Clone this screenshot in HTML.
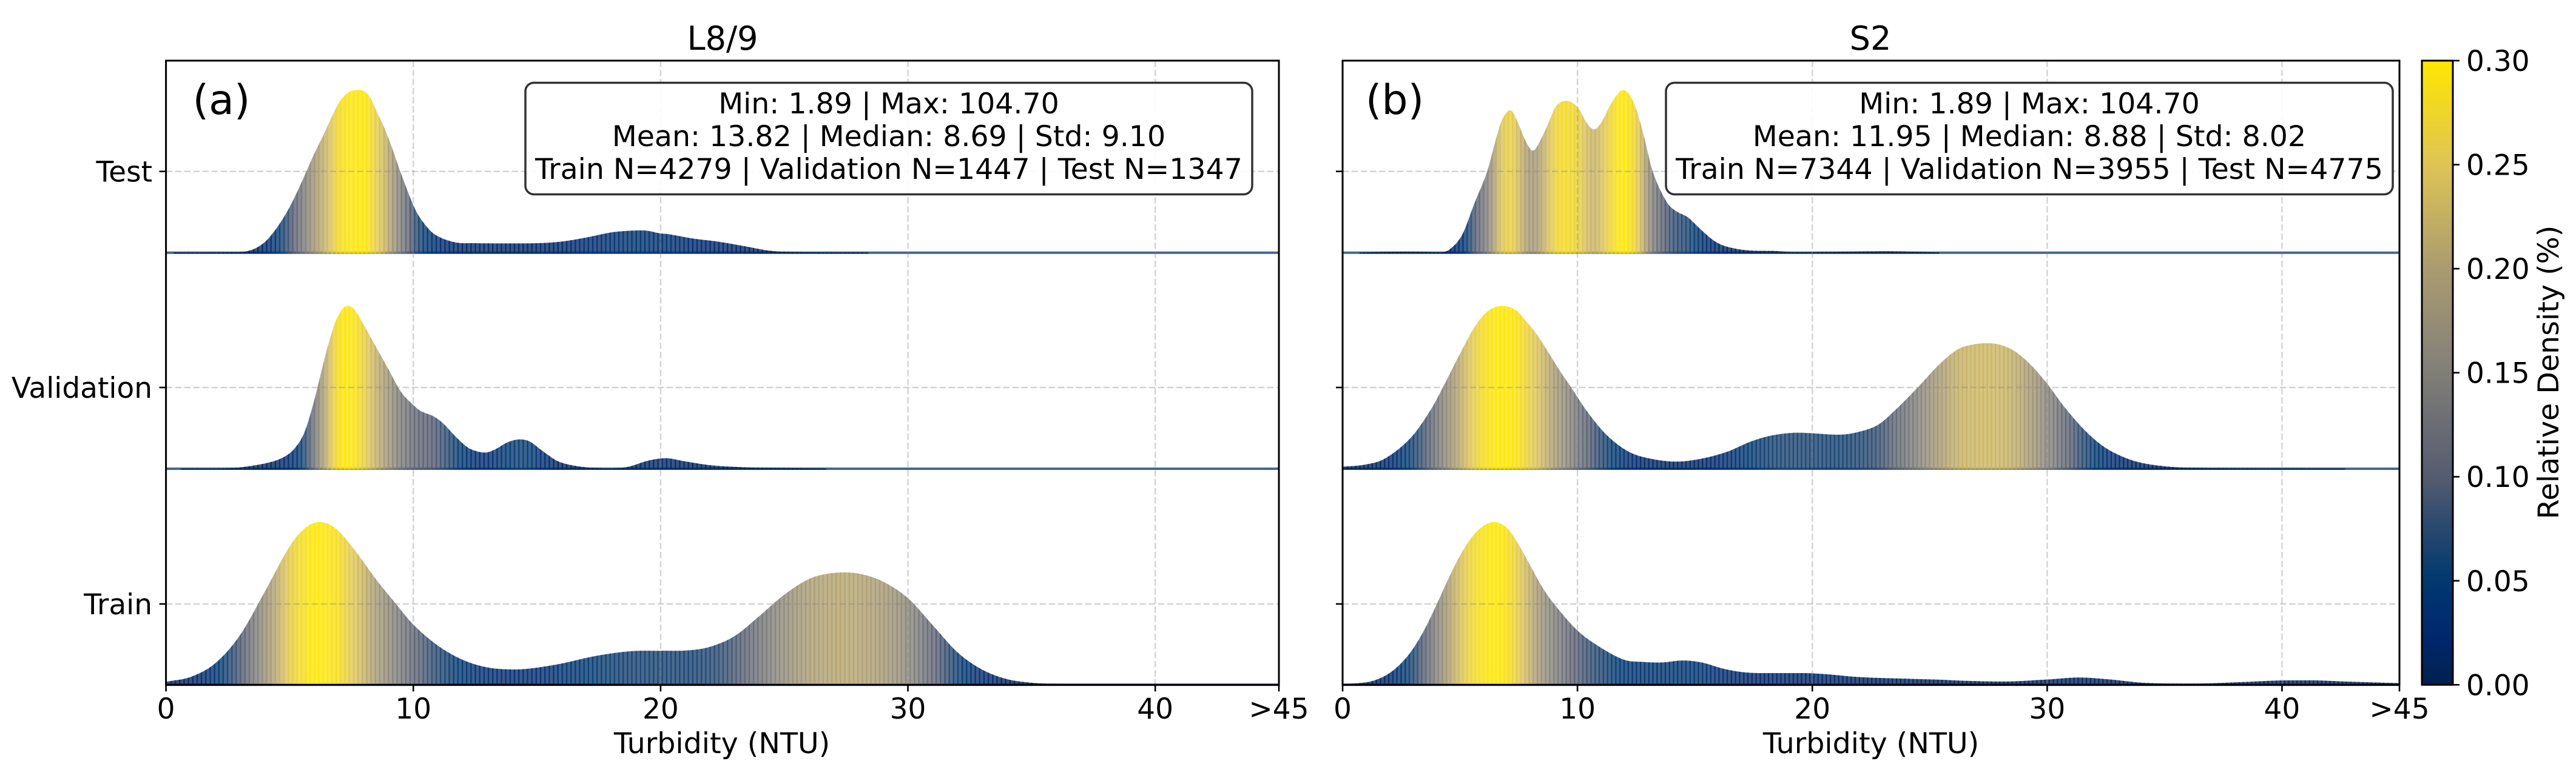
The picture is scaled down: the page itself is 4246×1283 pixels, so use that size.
<!DOCTYPE html>
<html lang="en">
<head>
<meta charset="utf-8">
<title>Turbidity density ridgelines</title>
<style>
html,body{margin:0;padding:0;background:#fff;}
svg{display:block;}
text{font-family:"DejaVu Sans","Liberation Sans",sans-serif;fill:#000;}
</style>
</head>
<body>
<svg id="chart" xmlns="http://www.w3.org/2000/svg" width="4246" height="1283" viewBox="0 0 4246 1283">
  <rect x="0" y="0" width="4246" height="1283" fill="#fff"/>
  <g id="marks"></g>
  <g id="overlay"></g>

  <text x="1191" y="82" font-size="54" text-anchor="middle">L8/9</text>
  <text x="3083" y="82" font-size="54" text-anchor="middle">S2</text>
  <text x="365" y="188" font-size="68" text-anchor="middle">(a)</text>
  <text x="2299" y="188" font-size="68" text-anchor="middle">(b)</text>

  <g>
    <rect x="866" y="136.5" width="1198" height="184" rx="14" ry="14" fill="#fff" fill-opacity="0.9" stroke="#333" stroke-width="3.5"/>
    <text x="1465" y="187" font-size="47.4" text-anchor="middle">Min: 1.89 | Max: 104.70</text>
    <text x="1465" y="241" font-size="47.4" text-anchor="middle">Mean: 13.82 | Median: 8.69 | Std: 9.10</text>
    <text x="1465" y="295" font-size="47.4" text-anchor="middle">Train N=4279 | Validation N=1447 | Test N=1347</text>
  </g>
  <g>
    <rect x="2746" y="136.5" width="1198" height="184" rx="14" ry="14" fill="#fff" fill-opacity="0.9" stroke="#333" stroke-width="3.5"/>
    <text x="3345" y="187" font-size="47.4" text-anchor="middle">Min: 1.89 | Max: 104.70</text>
    <text x="3345" y="241" font-size="47.4" text-anchor="middle">Mean: 11.95 | Median: 8.88 | Std: 8.02</text>
    <text x="3345" y="295" font-size="47.4" text-anchor="middle">Train N=7344 | Validation N=3955 | Test N=4775</text>
  </g>

  <text x="1190" y="1242" font-size="47.5" text-anchor="middle">Turbidity (NTU)</text>
  <text x="3084" y="1242" font-size="47.5" text-anchor="middle">Turbidity (NTU)</text>
  <text font-size="47.5" text-anchor="middle" transform="translate(4217 614) rotate(-90)">Relative Density (%)</text>
</svg>

<script>
// ---------- data ----------
const rowLabels = ['Test', 'Validation', 'Train'];
const xTickValues = [0, 10, 20, 30, 40, 45];
const xTickLabels = ['0', '10', '20', '30', '40', '>45'];
const colorbarTickValues = [0, 0.05, 0.10, 0.15, 0.20, 0.25, 0.30];
const colorbarTickLabels = ['0.00', '0.05', '0.10', '0.15', '0.20', '0.25', '0.30'];

const l89TestX = [0.3,2.6,3.2,3.7,4.16,4.74,5.2,5.68,6,6.37,6.7,7.03,7.4,7.81,8.2,8.5,8.82,9.15,9.47,10.05,10.4,10.87,11.7,12.5,13,15,16,17,18,18.7,19.3,20,20.3,21.3,22.3,23.4,24.4,25.4,28.4];
const l89TestDensity = [0.0004,0.0007,0.002,0.010,0.027,0.0635,0.102,0.15,0.183,0.217,0.25,0.279,0.296,0.30,0.29,0.262,0.231,0.192,0.15,0.0824,0.056,0.0335,0.019,0.0175,0.0172,0.0175,0.0205,0.028,0.0373,0.0403,0.041,0.0354,0.0343,0.0261,0.0205,0.0119,0.0037,0.0011,0.0004];

const l89ValidationX = [0.6,2.6,3.5,4.3,4.8,5.2,5.6,6,6.3,6.6,6.9,7.3,7.6,8,8.5,9,9.5,10,10.3,10.8,11.2,11.7,12.2,12.6,12.9,13.3,13.8,14.3,14.7,15.2,15.8,16.3,17,18,18.7,19.5,20.2,21,22,23,24,26.7];
const l89ValidationDensity = [0.0004,0.0011,0.0056,0.0131,0.0224,0.0373,0.0671,0.1268,0.1828,0.235,0.276,0.30,0.2947,0.2648,0.2238,0.1828,0.1417,0.1175,0.1063,0.097,0.0839,0.0597,0.0392,0.0317,0.0298,0.0354,0.0485,0.0541,0.0504,0.0336,0.0149,0.0075,0.0026,0.0007,0.0037,0.0149,0.0194,0.0135,0.0065,0.0035,0.002,0.0004];

const l89TrainX = [0,1,2,3,4,5,5.6,6.2,6.8,7.5,8.5,9.3,10,11,12,13,14.1,15.7,17.4,18.8,20,21.1,22,23,24,25,26,26.8,27.5,28.2,29,30,31,32,33,34,35,36,40,45];
const l89TrainDensity = [0.0056,0.0145,0.04,0.092,0.172,0.255,0.288,0.30,0.29,0.256,0.194,0.149,0.111,0.072,0.046,0.032,0.0283,0.0366,0.0533,0.0619,0.0627,0.0634,0.07,0.09,0.127,0.166,0.195,0.205,0.207,0.203,0.19,0.1596,0.11,0.06,0.028,0.0105,0.0038,0.0017,0.0011,0.0007];

const s2TestX = [0.73,2.7,4.2,4.6,5.1,5.6,6.16,6.5,6.8,7.16,7.4,7.8,8.1,8.4,8.8,9.06,9.5,10,10.4,10.7,11,11.5,11.96,12.4,12.8,13.2,13.8,14.2,14.7,15.2,15.8,16.3,17.2,18.5,19.2,23.2,25.4];
const s2TestDensity = [0.0003,0.0019,0.0007,0.0075,0.0336,0.0895,0.15,0.205,0.246,0.263,0.2462,0.2052,0.1872,0.2052,0.2425,0.2686,0.2798,0.2686,0.2387,0.2268,0.2387,0.2798,0.30,0.276,0.22,0.15,0.0933,0.0765,0.0653,0.0448,0.0224,0.0119,0.0045,0.003,0.0007,0.0026,0.0004];

const s2ValidationX = [0,0.95,1.8,2.9,3.73,4.27,5,5.66,6.2,6.77,7.37,7.8,8.23,8.87,9.3,9.73,10.37,11.2,12.1,12.9,14.2,15.3,16.4,17.4,18.3,19.4,20,21.1,21.9,22.8,23.6,24.5,25.4,26.2,26.9,27.5,28.4,29.2,30,30.7,31.6,32.4,33.2,34,35,36,38,42.7];
const s2ValidationDensity = [0.0037,0.0075,0.0187,0.057,0.107,0.15,0.212,0.264,0.291,0.30,0.2927,0.2723,0.25,0.207,0.177,0.15,0.108,0.064,0.0333,0.0205,0.0131,0.0187,0.0317,0.0504,0.0615,0.0664,0.0653,0.0627,0.0671,0.081,0.111,0.1503,0.192,0.2201,0.2294,0.2313,0.2219,0.1958,0.1567,0.1156,0.0709,0.041,0.0224,0.011,0.0045,0.002,0.0008,0.0004];

const s2TrainX = [0,1,1.5,2,2.5,3,3.5,4,4.5,5,5.5,6,6.45,7,7.5,8,8.5,9,10,11,12,12.8,13.5,14.5,15.3,16.2,17,17.8,19.5,20.5,22,24,25.5,26.4,28.1,30,31.35,32.7,34.1,36.2,38.2,39.8,41.2,42.7,45];
const s2TrainDensity = [0.0011,0.0045,0.0104,0.0216,0.04,0.0664,0.103,0.1475,0.195,0.238,0.272,0.293,0.30,0.289,0.258,0.219,0.18,0.1492,0.10,0.0683,0.0459,0.0421,0.041,0.0448,0.041,0.0298,0.0235,0.0216,0.0216,0.0198,0.0142,0.0112,0.0093,0.0075,0.006,0.0097,0.0134,0.0097,0.0037,0.0022,0.0048,0.0078,0.0082,0.006,0.003];

// ---------- layout ----------
const SVGNS = 'http://www.w3.org/2000/svg';
const marks = document.getElementById('marks');
const overlay = document.getElementById('overlay');
const plotTop = 100, plotBottom = 1129.3;
const baselines = [416.7, 773, 1129.3];
const rowTickY = [282.7, 639, 996];
const pxPerDensity = 895;
const densityMax = 0.30;
const binCount = 256;
const xMax = 45;
const barOverlap = 2.4;
const panels = [
  { key: 'l89', left: 273.6, right: 2108, labels: true,
    series: [[l89TestX, l89TestDensity], [l89ValidationX, l89ValidationDensity], [l89TrainX, l89TrainDensity]] },
  { key: 's2', left: 2213, right: 3955, labels: false,
    series: [[s2TestX, s2TestDensity], [s2ValidationX, s2ValidationDensity], [s2TrainX, s2TrainDensity]] }
];
const cbLeft = 3992, cbRight = 4043;
const colormapPositions = [0, 0.083, 0.167, 0.25, 0.333, 0.5, 0.667, 0.833, 1];
const colormapColors = [[0,32,79],[0,40,110],[0,56,112],[40,72,110],[85,92,112],[128,126,120],[170,155,112],[222,196,84],[255,230,0]];

function xScale(panel, t) { return panel.left + (panel.right - panel.left) * t / xMax; }
function yScale(base, v) { return base - v * pxPerDensity; }
function cbScale(v) { return plotBottom - (plotBottom - plotTop) * v / densityMax; }

function colorFor(v) {
  const u = Math.max(0, Math.min(1, v / densityMax));
  let i = 0;
  while (i < colormapPositions.length - 2 && u > colormapPositions[i + 1]) i++;
  const f = (u - colormapPositions[i]) / (colormapPositions[i + 1] - colormapPositions[i]);
  const a = colormapColors[i], b = colormapColors[i + 1];
  return 'rgb(' + [0, 1, 2].map(function (k) { return Math.round(a[k] + (b[k] - a[k]) * f); }).join(',') + ')';
}

// smooth curve through the read points, used only to draw smooth edges
function makeCurve(xs, ys) {
  const n = xs.length, h = [], d = [], m = [];
  for (let i = 0; i < n - 1; i++) { h.push(xs[i + 1] - xs[i]); d.push((ys[i + 1] - ys[i]) / h[i]); }
  m[0] = d[0]; m[n - 1] = d[n - 2];
  for (let i = 1; i < n - 1; i++) {
    if (d[i - 1] * d[i] <= 0) { m[i] = 0; }
    else { m[i] = (ys[i + 1] - ys[i - 1]) / (xs[i + 1] - xs[i - 1]); }
  }
  return function (t) {
    if (t <= xs[0]) return ys[0];
    if (t >= xs[n - 1]) return ys[n - 1];
    let i = 0;
    while (t > xs[i + 1]) i++;
    const s = (t - xs[i]) / h[i], s2 = s * s, s3 = s2 * s;
    const v = (2 * s3 - 3 * s2 + 1) * ys[i] + (s3 - 2 * s2 + s) * h[i] * m[i] + (3 * s2 - 2 * s3) * ys[i + 1] + (s3 - s2) * h[i] * m[i + 1];
    return Math.max(0, v);
  };
}

function line(parent, x1, y1, x2, y2, stroke, width, name) {
  const el = document.createElementNS(SVGNS, 'line');
  el.setAttribute('x1', x1); el.setAttribute('y1', y1);
  el.setAttribute('x2', x2); el.setAttribute('y2', y2);
  el.setAttribute('stroke', stroke); el.setAttribute('stroke-width', width);
  
  
  parent.appendChild(el);
  return el;
}
function label(parent, x, y, str, anchor, name) {
  const el = document.createElementNS(SVGNS, 'text');
  el.setAttribute('x', x); el.setAttribute('y', y);
  el.setAttribute('font-size', '47');
  el.setAttribute('text-anchor', anchor);
  el.textContent = str;
  
  
  parent.appendChild(el);
  return el;
}

// ---------- ridges ----------
panels.forEach(function (panel) {
  panel.series.forEach(function (pair, row) {
    const xs = pair[0], ys = pair[1], base = baselines[row];
    line(marks, panel.left, base, panel.right, base, '#46698c', 4, 'baseline-' + panel.key + '-' + rowLabels[row].toLowerCase());
    const curve = makeCurve(xs, ys);
    const g = document.createElementNS(SVGNS, 'g');
    
    
    const step = xMax / binCount;
    const pxStep = xScale(panel, step) - xScale(panel, 0);
    const extra = barOverlap / pxStep * step;
    for (let i = 0; i < binCount; i++) {
      const t0 = i * step, t1 = Math.min(t0 + step + extra, xMax);
      if (t1 < xs[0] || t0 > xs[xs.length - 1]) continue;
      const a = Math.max(t0, xs[0]), b = Math.min(t1, xs[xs.length - 1]);
      const mid = (a + b) / 2;
      const bar = document.createElementNS(SVGNS, 'polygon');
      const pts = [
        [xScale(panel, a), base + 1.5],
        [xScale(panel, a), yScale(base, curve(a))],
        [xScale(panel, mid), yScale(base, curve(mid))],
        [xScale(panel, b), yScale(base, curve(b))],
        [xScale(panel, b), base + 1.5]
      ];
      bar.setAttribute('points', pts.map(function (p) { return p[0].toFixed(2) + ',' + p[1].toFixed(2); }).join(' '));
      bar.setAttribute('fill', colorFor(curve(mid)));
      bar.setAttribute('fill-opacity', '0.78');
      
      
      g.appendChild(bar);
    }
    marks.appendChild(g);
  });
});

// ---------- grid, ticks, spines ----------
panels.forEach(function (panel) {
  xTickValues.forEach(function (v, i) {
    const x = xScale(panel, v);
    if (v > 0 && v < xMax) {
      const gl = line(overlay, x, plotTop, x, plotBottom, '#808080', 2.4, 'x-gridline');
      gl.setAttribute('stroke-opacity', '0.35');
      gl.setAttribute('stroke-dasharray', '10.5 4.5');
    }
    line(overlay, x, plotBottom, x, plotBottom + 11, '#000', 2.6, 'x-tick');
    label(overlay, x, 1185, xTickLabels[i], 'middle', 'x-tick-label');
  });
  rowLabels.forEach(function (name, row) {
    const y = rowTickY[row];
    const gl = line(overlay, panel.left, y, panel.right, y, '#808080', 2.4, 'y-gridline');
    gl.setAttribute('stroke-opacity', '0.35');
    gl.setAttribute('stroke-dasharray', '10.5 4.5');
    line(overlay, panel.left - 11, y, panel.left, y, '#000', 2.6, 'y-tick');
    if (panel.labels) label(overlay, 251, y + 17, name, 'end', 'y-tick-label');
  });
  const frame = document.createElementNS(SVGNS, 'rect');
  frame.setAttribute('x', panel.left);
  frame.setAttribute('y', plotTop);
  frame.setAttribute('width', panel.right - panel.left);
  frame.setAttribute('height', plotBottom - plotTop);
  frame.setAttribute('fill', 'none');
  frame.setAttribute('stroke', '#000');
  frame.setAttribute('stroke-width', '3');
  
  
  overlay.appendChild(frame);
});

// ---------- colorbar ----------
const cbGroup = document.createElementNS(SVGNS, 'g');


overlay.appendChild(cbGroup);
for (let py = plotTop; py < plotBottom; py += 3) {
  const v = densityMax * (plotBottom - py - 1.5) / (plotBottom - plotTop);
  const seg = document.createElementNS(SVGNS, 'rect');
  seg.setAttribute('x', cbLeft);
  seg.setAttribute('y', py);
  seg.setAttribute('width', cbRight - cbLeft);
  seg.setAttribute('height', Math.min(3.5, plotBottom - py));
  seg.setAttribute('fill', colorFor(v));
  
  
  cbGroup.appendChild(seg);
}
const cbFrame = document.createElementNS(SVGNS, 'rect');
cbFrame.setAttribute('x', cbLeft);
cbFrame.setAttribute('y', plotTop);
cbFrame.setAttribute('width', cbRight - cbLeft);
cbFrame.setAttribute('height', plotBottom - plotTop);
cbFrame.setAttribute('fill', 'none');
cbFrame.setAttribute('stroke', '#000');
cbFrame.setAttribute('stroke-width', '3');


cbGroup.appendChild(cbFrame);
colorbarTickValues.forEach(function (v, i) {
  const y = cbScale(v);
  line(cbGroup, cbRight, y, cbRight + 11, y, '#000', 2.6, 'colorbar-tick');
  label(cbGroup, 4065, y + 17, colorbarTickLabels[i], 'start', 'colorbar-tick-label');
});
</script>
</body>
</html>
